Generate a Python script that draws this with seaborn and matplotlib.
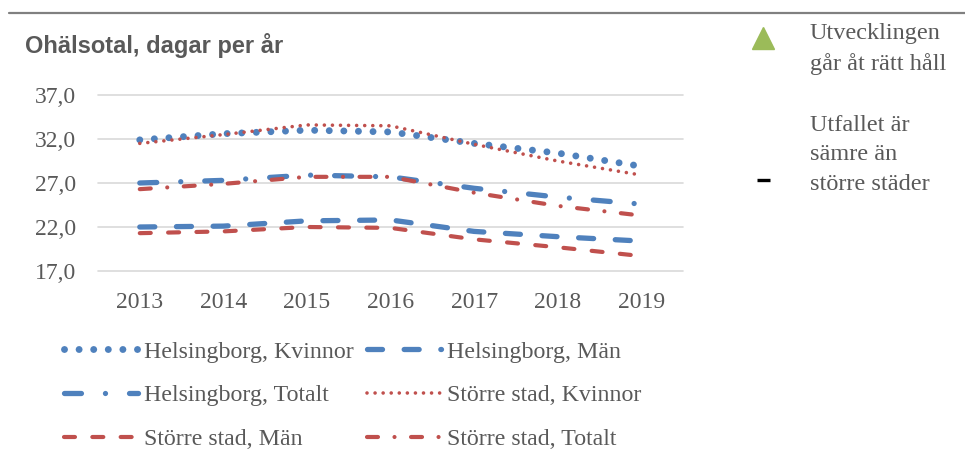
import matplotlib
matplotlib.use("Agg")
import matplotlib.pyplot as plt
from matplotlib.lines import Line2D
import seaborn as sns
import pandas as pd

# ---- data ----
years = [2013, 2014, 2015, 2016, 2017, 2018, 2019]
hbg_kvinnor = [31.9, 32.6, 33.0, 32.8, 31.5, 30.4, 28.9]
hbg_man = [22.0, 22.1, 22.7, 22.8, 21.5, 20.9, 20.4]
hbg_totalt = [27.0, 27.3, 27.9, 27.7, 26.4, 25.4, 24.6]
stad_kvinnor = [31.5, 32.5, 33.6, 33.5, 31.4, 29.5, 27.9]
stad_man = [21.3, 21.5, 22.0, 21.9, 20.6, 19.7, 18.7]
stad_totalt = [26.3, 26.9, 27.7, 27.7, 25.9, 24.4, 23.3]
series_names = ["Helsingborg, Kvinnor", "Helsingborg, Män", "Helsingborg, Totalt",
                "Större stad, Kvinnor", "Större stad, Män", "Större stad, Totalt"]
series_values = [hbg_kvinnor, hbg_man, hbg_totalt, stad_kvinnor, stad_man, stad_totalt]
yticks = [17.0, 22.0, 27.0, 32.0, 37.0]
ytick_labels = ["17,0", "22,0", "27,0", "32,0", "37,0"]
title = "Ohälsotal, dagar per år"
note1 = "Utvecklingen\ngår åt rätt håll"
note2 = "Utfallet är\nsämre än\nstörre städer"

BLUE = "#4F81BD"
RED = "#C0504D"
GREEN = "#9BBB59"
GRAY_TXT = "#595959"

styles = {
    "Helsingborg, Kvinnor": dict(color=BLUE, lw=5.0, ls=(0, (0.01, 10.5))),
    "Helsingborg, Män": dict(color=BLUE, lw=3.8, ls=(0, (10.8, 15.6))),
    "Helsingborg, Totalt": dict(color=BLUE, lw=3.8, ls=(0, (12.2, 17.3, 0.01, 17.3))),
    "Större stad, Kvinnor": dict(color=RED, lw=2.6, ls=(0, (0.01, 5.8))),
    "Större stad, Män": dict(color=RED, lw=3.0, ls=(0, (7.9, 12.5))),
    "Större stad, Totalt": dict(color=RED, lw=3.0, ls=(0, (7.9, 11.9, 0.01, 11.9))),
}

sns.set_theme(style="white")
plt.rcParams["font.family"] = ["Liberation Serif", "DejaVu Serif"]
plt.rcParams["lines.scale_dashes"] = False

fig = plt.figure(figsize=(9.65, 4.53), dpi=100)
ax = fig.add_axes([98 / 965, 1 - 271 / 453, (683 - 98) / 965, (271 - 95) / 453])

rows = []
for name, vals in zip(series_names, series_values):
    for y, v in zip(years, vals):
        rows.append({"year": y, "value": v, "series": name})
df = pd.DataFrame(rows)

handles = {}
for name in series_names:
    st = styles[name]
    sub = df[df["series"] == name]
    sns.lineplot(data=sub, x="year", y="value", ax=ax, color=st["color"],
                 linewidth=st["lw"], linestyle=st["ls"], dash_capstyle="round",
                 solid_capstyle="round", label=name, legend=False)
    handles[name] = ax.get_lines()[-1]

ax.set_xlim(2012.5, 2019.5)
ax.set_ylim(17, 37)
ax.set_xticks(years)
ax.set_xticklabels([str(y) for y in years])
ax.set_yticks(yticks)
ax.set_yticklabels(ytick_labels)
ax.set_xlabel("")
ax.set_ylabel("")
for s in ax.spines.values():
    s.set_visible(False)
ax.grid(axis="y", color="#D9D9D9", linewidth=1.2)
ax.grid(axis="x", visible=False)
for gl in ax.yaxis.get_gridlines():
    gl.set_clip_on(False)
ax.set_axisbelow(True)
ax.tick_params(axis="both", length=0, labelsize=17, labelcolor=GRAY_TXT)
ax.tick_params(axis="y", pad=16)
ax.tick_params(axis="x", pad=15)

# legend (row-wise order as in the reference)
order = ["Helsingborg, Kvinnor", "Helsingborg, Totalt", "Större stad, Män",
         "Helsingborg, Män", "Större stad, Kvinnor", "Större stad, Totalt"]
leg = fig.legend([handles[n] for n in order], order, ncol=2, loc="upper left",
                 bbox_to_anchor=(64 / 965, 1 - 341 / 453), frameon=False,
                 borderpad=0, borderaxespad=0, handlelength=3.1, handletextpad=0.25,
                 columnspacing=0.55, labelspacing=0.92, fontsize=17.2)
for t in leg.get_texts():
    t.set_color(GRAY_TXT)

# title
fig.text(25 / 965, 1 - 46 / 453, title, fontsize=17, fontweight="bold",
         color=GRAY_TXT, family=["Liberation Sans", "DejaVu Sans"], va="center", ha="left")

# top rule
fig.add_artist(Line2D([9 / 965, 1.0], [1 - 13 / 453, 1 - 13 / 453],
                      transform=fig.transFigure, color="#808080", lw=1.6))

# right-hand notes
fig.add_artist(Line2D([763 / 965], [1 - 38 / 453], transform=fig.transFigure,
                      marker="^", ms=16, color=GREEN, lw=0))
fig.text(810 / 965, 1 - 49 / 453, note1, fontsize=17.5, color=GRAY_TXT,
         va="center", ha="left", linespacing=1.5)
fig.add_artist(Line2D([757 / 965, 770 / 965], [1 - 180 / 453, 1 - 180 / 453],
                      transform=fig.transFigure, color="black", lw=2.4,
                      solid_capstyle="butt"))
fig.text(810 / 965, 1 - 155 / 453, note2, fontsize=17.5, color=GRAY_TXT,
         va="center", ha="left", linespacing=1.55)

fig.savefig("out.png", dpi=100)
